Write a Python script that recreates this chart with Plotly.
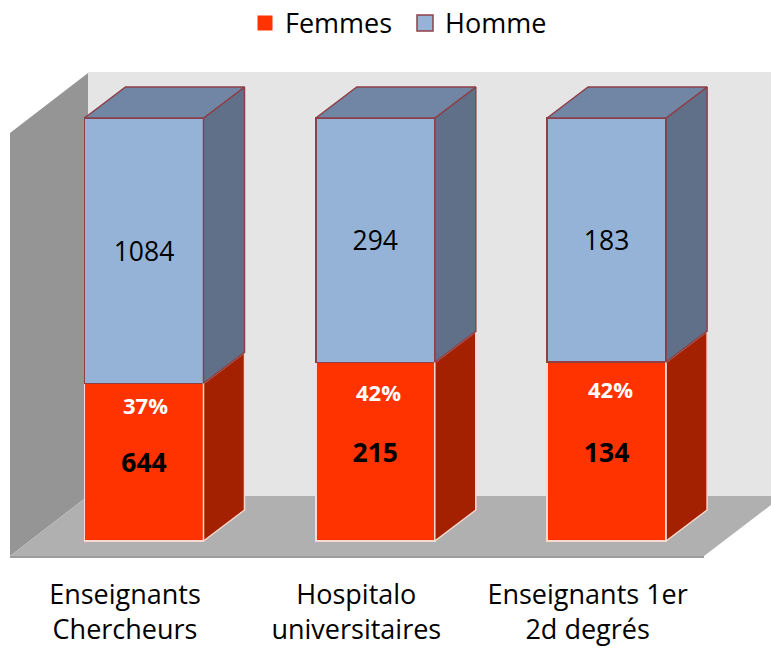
import plotly.graph_objects as go

categories = ["Enseignants<br>Chercheurs", "Hospitalo<br>universitaires", "Enseignants 1er<br>2d degrés"]
femmes = [644, 215, 134]
homme = [1084, 294, 183]
percent_labels = ["37%", "42%", "42%"]

W, H = 771, 648
PLOT_H = 575
FONT = "Open Sans"
RED, RED_SIDE = "#FF3300", "#A32100"
BLUE, BLUE_TOP, BLUE_SIDE = "#95B3D7", "#7086A4", "#5F7088"
EDGE_BLUE, EDGE_RED = "#8E3F47", "#FBD9CF"

# axis calibration: x=0 at pixel 144, one category = 231.3 px; 0% at pixel 541, 100% at 118
X0, X_PX, Y_PX = 144, 231.3, 4.23
x_range = [-X0 / X_PX, (W - X0) / X_PX]
y_range = [(541 - PLOT_H) / Y_PX, 541 / Y_PX]
BAR_W = 119 / X_PX
DX, DY = 41 / X_PX, 31 / Y_PX
LABEL_SHIFT = 19 / X_PX

share = [100 * f / (f + h) for f, h in zip(femmes, homme)]
xs = list(range(len(categories)))

fig = go.Figure()
fig.add_bar(name="Femmes", x=xs, y=femmes, width=BAR_W, showlegend=False,
            marker=dict(color=RED, line=dict(color=EDGE_RED, width=1.5)),
            text=[f"<b>{v}</b>" for v in femmes], textposition="inside", insidetextanchor="middle",
            textangle=0, constraintext="none", textfont=dict(color="black", size=26.5, family=FONT))
fig.add_bar(name="Homme", x=xs, y=homme, width=BAR_W, showlegend=False,
            marker=dict(color=BLUE, line=dict(color=EDGE_BLUE, width=1.5)),
            text=[str(v) for v in homme], textposition="inside", insidetextanchor="middle",
            textangle=0, constraintext="none", textfont=dict(color="black", size=26.5, family=FONT))


def face(px, py, fill, edge):
    fig.add_scatter(x=px, y=py, mode="lines", fill="toself", fillcolor=fill,
                    line=dict(color=edge, width=1.5), showlegend=False, hoverinfo="skip")


for x, s in zip(xs, share):
    r = x + BAR_W / 2
    l = x - BAR_W / 2
    face([r, r + DX, r + DX, r, r], [0, DY, s + DY, s, 0], RED_SIDE, EDGE_RED)
    face([r, r + DX, r + DX, r, r], [s, s + DY, 100 + DY, 100, s], BLUE_SIDE, EDGE_BLUE)
    face([l, l + DX, r + DX, r, l], [100, 100 + DY, 100 + DY, 100, 100], BLUE_TOP, EDGE_BLUE)

# legend keys: larger square swatches than the bar legend allows
fig.add_scatter(name="Femmes", x=[None], y=[None], mode="markers",
                marker=dict(symbol="square", size=15, color=RED, line=dict(width=0)))
fig.add_scatter(name="Homme", x=[None], y=[None], mode="markers",
                marker=dict(symbol="square", size=16, color=BLUE, line=dict(color=EDGE_BLUE, width=1.5)))


def pct(points):
    return "M" + "L".join(f"{px / W:.5f},{1 - py / PLOT_H:.5f}" for px, py in points) + "Z"


def wall(points, color):
    return dict(type="path", xref="paper", yref="paper", path=pct(points),
                fillcolor=color, line=dict(width=0), layer="below")


shapes = [
    wall([(88, 72), (771, 72), (771, 496), (88, 496)], "#E5E5E5"),
    wall([(10, 133), (88, 73), (88, 496), (10, 556)], "#959595"),
    wall([(10, 556), (88, 496), (771, 496), (771, 505), (704, 556)], "#B0B0B0"),
    wall([(10, 556), (704, 556), (704, 558), (10, 558)], "#9C9C9C"),
]

shifts = [(1, -22), (3, -30), (4, -27)]
annotations = [
    dict(x=x, y=s, text=f"<b>{t}</b>", showarrow=False, xshift=dx, yshift=dy,
         font=dict(color="white", size=22, family=FONT))
    for x, s, t, (dx, dy) in zip(xs, share, percent_labels, shifts)
]

fig.update_layout(
    width=W, height=H, autosize=False,
    margin=dict(l=0, r=0, t=0, b=H - PLOT_H, pad=0, autoexpand=False),
    paper_bgcolor="white", plot_bgcolor="white",
    barmode="stack", barnorm="percent",
    shapes=shapes, annotations=annotations,
    font=dict(family=FONT, color="black", size=27),
    legend=dict(orientation="h", x=245 / W, xanchor="left", y=1.002, yanchor="top", traceorder="normal",
                entrywidth=115, entrywidthmode="pixels", itemsizing="trace",
                font=dict(size=27, family=FONT), bgcolor="rgba(0,0,0,0)"),
    xaxis=dict(range=x_range, tickmode="array", tickvals=[x - LABEL_SHIFT for x in xs], ticktext=categories,
               showgrid=False, zeroline=False, showline=False, ticks="", ticklabelstandoff=1, automargin=False,
               tickfont=dict(size=27, family=FONT, color="black"), tickangle=0, fixedrange=True),
    yaxis=dict(range=y_range, visible=False, fixedrange=True),
)

fig.write_html("out.html", post_script="document.body.style.margin='0';document.body.style.overflow='hidden';",
               config={"displayModeBar": False})
